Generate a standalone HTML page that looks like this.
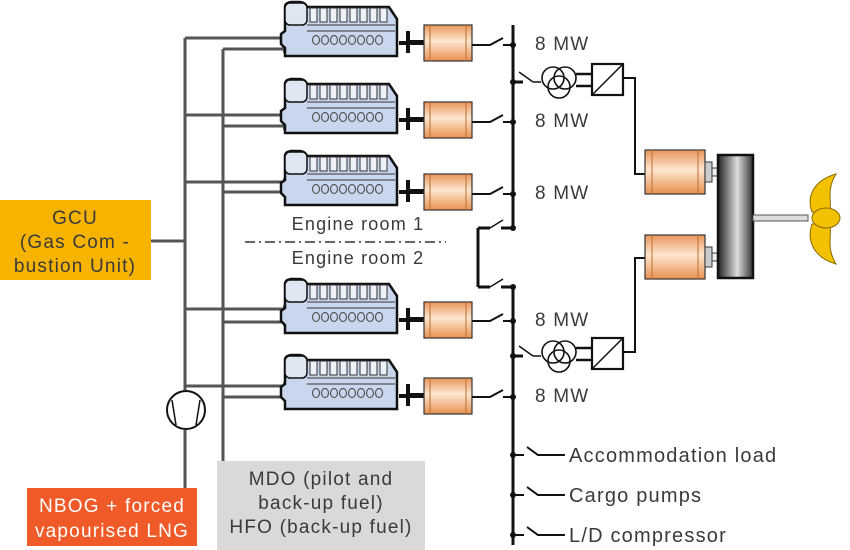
<!DOCTYPE html>
<html><head><meta charset="utf-8"><style>
html,body{margin:0;padding:0;background:#fff}
svg{display:block}
text{font-family:"Liberation Sans",sans-serif;fill:#3a3a3a;letter-spacing:1.2px}
</style></head><body>
<svg width="850" height="550" viewBox="0 0 850 550" xmlns="http://www.w3.org/2000/svg">
<defs>
<linearGradient id="gen" x1="0" y1="0" x2="0" y2="1">
<stop offset="0" stop-color="#e8965a"/><stop offset="0.45" stop-color="#fde6d0"/><stop offset="1" stop-color="#e8904f"/>
</linearGradient>
<linearGradient id="gb" x1="0" y1="0" x2="1" y2="0">
<stop offset="0" stop-color="#222"/><stop offset="0.55" stop-color="#ddd"/><stop offset="1" stop-color="#333"/>
</linearGradient>
<marker id="ar" markerWidth="10" markerHeight="8" refX="9" refY="4" orient="auto" markerUnits="userSpaceOnUse">
<path d="M0,0 L10,4 L0,8 z" fill="#555"/></marker>
<g id="eng">
<path d="M2,4 q0,-4 6,-5 l8,0 q6,0 8,5 l82,0 l8,12 l0,37 l-112,0 l0,-8 l-4,-4 l0,-10 l4,-3 z" fill="#c9d7ee" stroke="#111" stroke-width="2.5"/>
<rect x="2" y="0" width="22" height="22" rx="5" fill="#dfe6f2" stroke="#111" stroke-width="1.5"/>
<g stroke="#333" stroke-width="1" fill="#eef2f8">
<rect x="27" y="5" width="7" height="14"/><rect x="37" y="5" width="7" height="14"/><rect x="47" y="5" width="7" height="14"/><rect x="57" y="5" width="7" height="14"/><rect x="67" y="5" width="7" height="14"/><rect x="77" y="5" width="7" height="14"/><rect x="87" y="5" width="7" height="14"/><rect x="97" y="5" width="7" height="14"/>
</g>
<line x1="24" y1="22" x2="112" y2="22" stroke="#333" stroke-width="1"/>
<line x1="24" y1="28" x2="112" y2="28" stroke="#333" stroke-width="1"/>
<g fill="none" stroke="#555" stroke-width="1.2">
<ellipse cx="33" cy="37" rx="3.5" ry="4.5"/><ellipse cx="42" cy="37" rx="3.5" ry="4.5"/><ellipse cx="51" cy="37" rx="3.5" ry="4.5"/><ellipse cx="60" cy="37" rx="3.5" ry="4.5"/><ellipse cx="69" cy="37" rx="3.5" ry="4.5"/><ellipse cx="78" cy="37" rx="3.5" ry="4.5"/><ellipse cx="87" cy="37" rx="3.5" ry="4.5"/><ellipse cx="96" cy="37" rx="3.5" ry="4.5"/>
</g>
<rect x="116" y="38" width="12" height="4" fill="#111"/>
<rect x="123" y="28" width="4" height="22" fill="#111"/>
<rect x="127" y="37" width="14" height="5" fill="#111"/>
<rect x="141" y="22" width="48" height="36" fill="url(#gen)" stroke="#333" stroke-width="1.2"/>
<line x1="147" y1="22" x2="147" y2="58" stroke="#c07030"/><line x1="183" y1="22" x2="183" y2="58" stroke="#c07030"/>
</g>
<g id="mot">
<rect x="0" y="0" width="60" height="44" fill="url(#gen)" stroke="#333" stroke-width="1.2"/>
<line x1="7" y1="0" x2="7" y2="44" stroke="#c07030"/><line x1="53" y1="0" x2="53" y2="44" stroke="#c07030"/>
<rect x="60" y="12" width="7" height="20" fill="#ccc" stroke="#333"/>
<rect x="67" y="18" width="6" height="8" fill="#eee" stroke="#333"/>
</g>
<g id="xf">
<line x1="0" y1="0" x2="10" y2="0" stroke="#111" stroke-width="3"/>
<line x1="6" y1="-10" x2="20" y2="0" stroke="#111" stroke-width="1.5"/>
<line x1="20" y1="0" x2="28" y2="0" stroke="#111" stroke-width="1.5"/>
<circle cx="40" cy="-4" r="11" fill="none" stroke="#111" stroke-width="1.6"/>
<circle cx="52" cy="-4" r="11" fill="none" stroke="#111" stroke-width="1.6"/>
<circle cx="46" cy="5" r="11" fill="none" stroke="#111" stroke-width="1.6"/>
<line x1="63" y1="-8" x2="79" y2="-8" stroke="#111" stroke-width="2.5"/>
<line x1="63" y1="4" x2="79" y2="4" stroke="#111" stroke-width="2.5"/>
<rect x="79" y="-18" width="31" height="31" fill="#fff" stroke="#111" stroke-width="2.2"/>
<line x1="79" y1="13" x2="110" y2="-18" stroke="#111" stroke-width="1.5"/>
</g>
</defs>

<rect x="0" y="200" width="151" height="80" fill="#f6b300"/>
<text x="75" y="224" font-size="19" text-anchor="middle">GCU</text>
<text x="75" y="248" font-size="19" text-anchor="middle">(Gas Com -</text>
<text x="75" y="272" font-size="19" text-anchor="middle">bustion Unit)</text>
<rect x="27" y="488" width="170" height="58" fill="#f05a28"/>
<text x="112" y="512" font-size="19" text-anchor="middle" style="fill:#fff">NBOG + forced</text>
<text x="112" y="537" font-size="19" text-anchor="middle" style="fill:#fff">vapourised LNG</text>
<rect x="217" y="461" width="208" height="89" fill="#d9d9d9"/>
<text x="321" y="485" font-size="19" text-anchor="middle">MDO (pilot and</text>
<text x="321" y="509" font-size="19" text-anchor="middle">back-up fuel)</text>
<text x="321" y="533" font-size="19" text-anchor="middle">HFO (back-up fuel)</text>

<g stroke="#555" stroke-width="3" fill="none">
<line x1="185" y1="38" x2="185" y2="390"/>
<line x1="185" y1="430" x2="185" y2="488"/>
<line x1="223" y1="49" x2="223" y2="461"/>
<line x1="151" y1="241" x2="185" y2="241"/>
<line x1="185" y1="38" x2="292" y2="38" marker-end="url(#ar)"/>
<line x1="223" y1="49" x2="292" y2="49" marker-end="url(#ar)"/>
<line x1="185" y1="115" x2="292" y2="115" marker-end="url(#ar)"/>
<line x1="223" y1="126" x2="292" y2="126" marker-end="url(#ar)"/>
<line x1="185" y1="182" x2="292" y2="182" marker-end="url(#ar)"/>
<line x1="223" y1="192" x2="292" y2="192" marker-end="url(#ar)"/>
<line x1="185" y1="309" x2="292" y2="309" marker-end="url(#ar)"/>
<line x1="223" y1="322" x2="292" y2="322" marker-end="url(#ar)"/>
<line x1="185" y1="386" x2="292" y2="386" marker-end="url(#ar)"/>
<line x1="223" y1="397" x2="292" y2="397" marker-end="url(#ar)"/>
</g>
<circle cx="186" cy="410" r="19" fill="#fff" stroke="#111" stroke-width="2"/>
<line x1="176" y1="425" x2="172" y2="400" stroke="#111" stroke-width="1.5"/>
<line x1="196" y1="425" x2="200" y2="400" stroke="#111" stroke-width="1.5"/>

<use href="#eng" x="283" y="3"/>
<use href="#eng" x="283" y="80"/>
<use href="#eng" x="283" y="152"/>
<use href="#eng" x="283" y="280"/>
<use href="#eng" x="283" y="356"/>

<g stroke="#111" stroke-width="3" fill="none">
<line x1="513" y1="25" x2="513" y2="228"/>
<line x1="513" y1="287" x2="513" y2="545"/>
<line x1="513" y1="228" x2="501" y2="228"/><line x1="478" y1="228" x2="490" y2="228"/>
<line x1="478" y1="228" x2="478" y2="287"/>
<line x1="513" y1="287" x2="501" y2="287"/><line x1="478" y1="287" x2="490" y2="287"/>
</g>
<g stroke="#111" stroke-width="1.5"><line x1="490" y1="228" x2="503" y2="220"/><line x1="490" y1="287" x2="503" y2="279"/></g>
<g fill="#111"><circle cx="513" cy="228" r="3"/><circle cx="513" cy="287" r="3"/></g>

<g stroke="#111" stroke-width="2" fill="none">
<path d="M472,45 H490 L503,38 M503,45 H513"/>
<path d="M472,122 H490 L503,115 M503,122 H513"/>
<path d="M472,194 H490 L503,187 M503,194 H513"/>
<path d="M472,321 H490 L503,314 M503,321 H513"/>
<path d="M472,397 H490 L503,390 M503,397 H513"/>
</g>
<g fill="#111"><circle cx="513" cy="45" r="3"/><circle cx="513" cy="122" r="3"/><circle cx="513" cy="194" r="3"/><circle cx="513" cy="321" r="3"/><circle cx="513" cy="397" r="3"/><circle cx="513" cy="82" r="3"/><circle cx="513" cy="356" r="3"/></g>

<g font-size="19">
<text x="535" y="50">8 MW</text><text x="535" y="127">8 MW</text><text x="535" y="199">8 MW</text>
<text x="535" y="326">8 MW</text><text x="535" y="402">8 MW</text>
</g>

<use href="#xf" x="513" y="82"/>
<use href="#xf" x="513" y="356"/>
<g stroke="#111" stroke-width="2" fill="none">
<path d="M623,78 H635 V174 H645"/>
<path d="M623,352 H635 V258 H645"/>
</g>
<use href="#mot" x="645" y="150"/>
<use href="#mot" x="645" y="235"/>
<rect x="718" y="155" width="35" height="123" fill="url(#gb)" stroke="#111" stroke-width="2.5"/>
<rect x="753" y="215" width="55" height="6" fill="#ddd" stroke="#555"/>
<path d="M812,212 C806,195 815,180 836,174 C826,190 832,202 830,212 Z" fill="#f2c100" stroke="#8a6a00"/>
<path d="M812,224 C806,242 815,258 836,264 C826,248 832,236 830,224 Z" fill="#f2c100" stroke="#8a6a00"/>
<ellipse cx="826" cy="218" rx="14" ry="10" fill="#f2c100" stroke="#8a6a00"/>

<text x="358" y="230" font-size="18" text-anchor="middle">Engine room 1</text>
<line x1="245" y1="242" x2="446" y2="242" stroke="#333" stroke-width="1.5" stroke-dasharray="10,4,2,4"/>
<text x="358" y="264" font-size="18" text-anchor="middle">Engine room 2</text>

<g stroke="#111" stroke-width="2" fill="none">
<path d="M513,455 H524 M527,447 L538,455 H565"/>
<path d="M513,495 H524 M527,487 L538,495 H565"/>
<path d="M513,535 H524 M527,527 L538,535 H565"/>
</g>
<g fill="#111"><circle cx="513" cy="455" r="3"/><circle cx="513" cy="495" r="3"/><circle cx="513" cy="535" r="3"/></g>
<g font-size="20" style="letter-spacing:1.5px">
<text x="569" y="462">Accommodation load</text>
<text x="569" y="502">Cargo pumps</text>
<text x="569" y="542">L/D compressor</text>
</g>
</svg>
</body></html>
